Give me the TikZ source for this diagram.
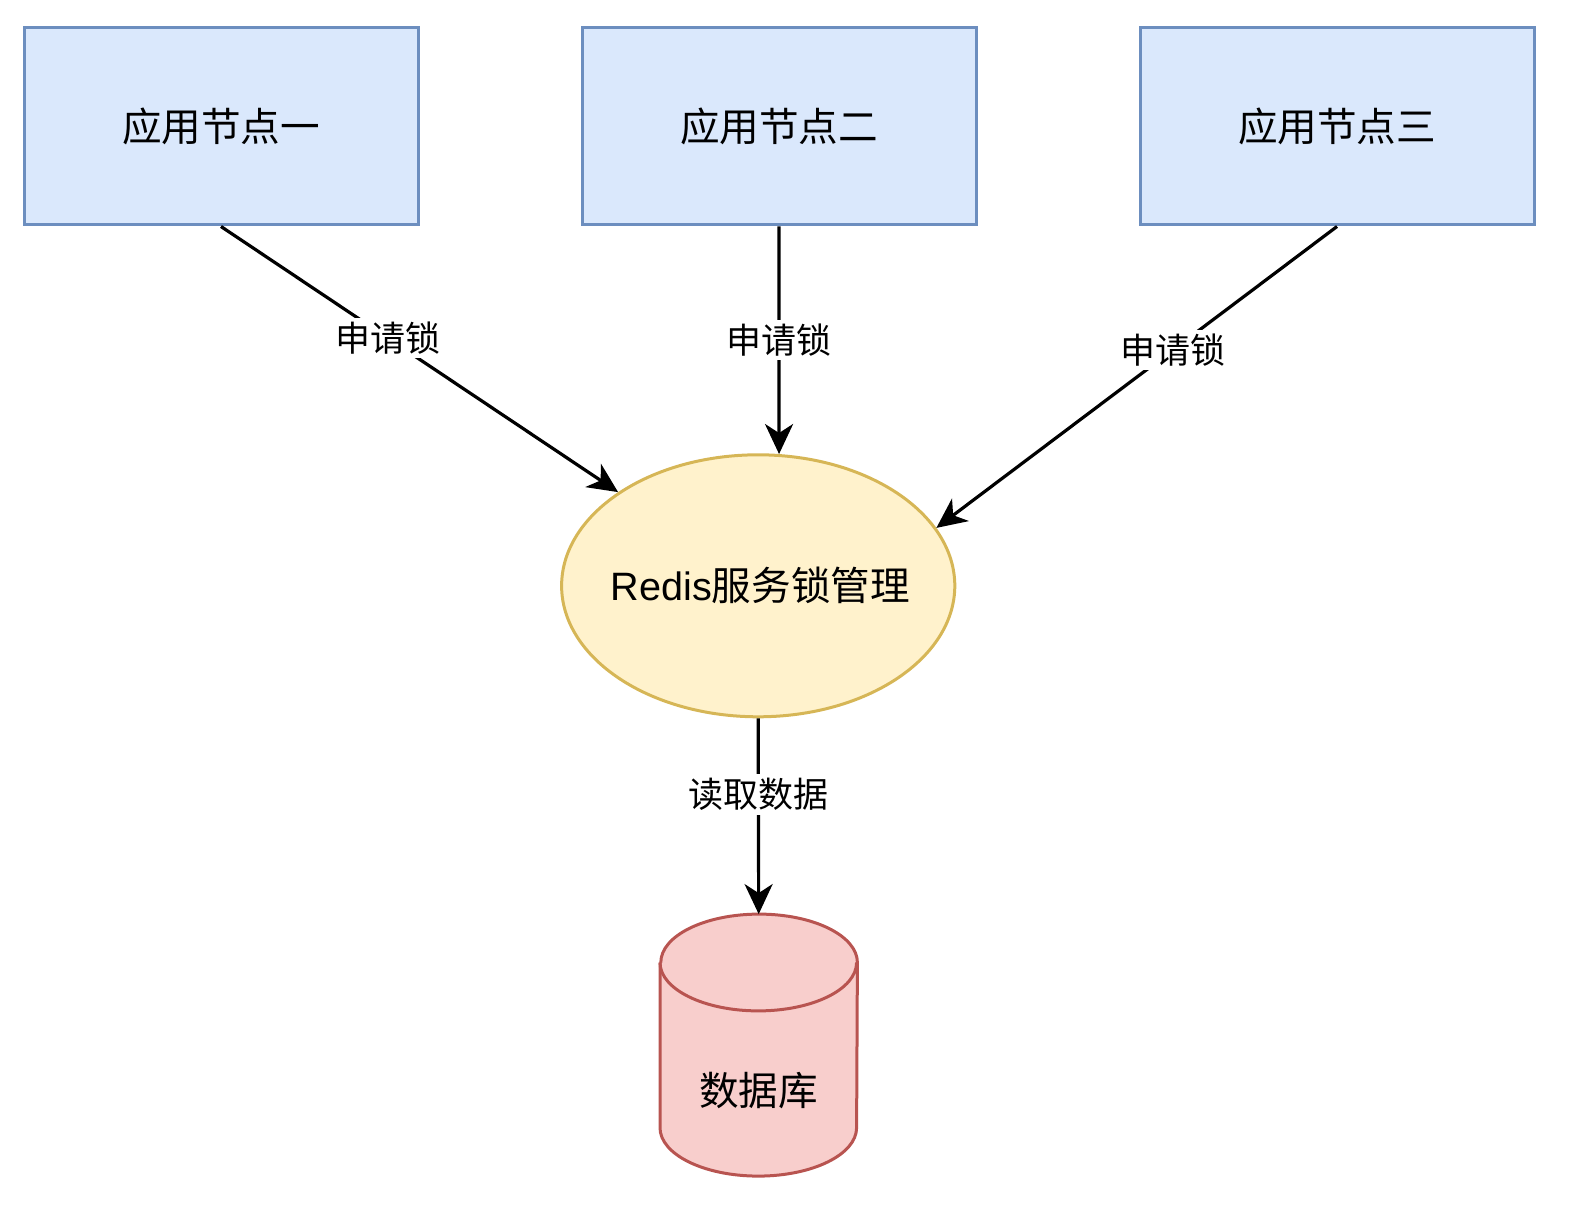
\documentclass[tikz,border=0pt]{standalone}
\usepackage{fontspec}
\setmainfont{Liberation Sans}
\newfontfamily\cjk{Noto Sans CJK SC}
\usetikzlibrary{arrows.meta,shapes.geometric,calc}
\definecolor{boxfill}{HTML}{DAE8FC}
\definecolor{boxline}{HTML}{6C8EBF}
\definecolor{ellfill}{HTML}{FFF2CC}
\definecolor{ellline}{HTML}{D6B656}
\definecolor{dbfill}{HTML}{F8CECC}
\definecolor{dbline}{HTML}{B85450}
\begin{document}
\begin{tikzpicture}[x=0.5pt,y=-0.5pt,
  appbox/.style={draw=boxline, fill=boxfill, line width=1.5pt, minimum width=197pt, minimum height=98.5pt, inner sep=0pt, font=\cjk\fontsize{19.8}{24}\selectfont},
  redisell/.style={ellipse, draw=ellline, fill=ellfill, line width=1.5pt, minimum width=196.6pt, minimum height=131pt, inner sep=0pt},
  dbbox/.style={minimum width=98.3pt, minimum height=130.6pt, inner sep=0pt},
  maintext/.style={font=\fontsize{19.8}{24}\selectfont, inner sep=0pt},
  arr/.style={line width=1.6pt, -{Stealth[length=15pt, width=14pt, inset=4.5pt]}},
  lbl/.style={fill=white, inner sep=2pt, font=\cjk\fontsize{17.5}{21}\selectfont}]
\useasboundingbox (0,0) rectangle (1581,1209);
\node[appbox] (b1) at (221,126.5) {应用节点一};
\node[appbox] (b2) at (779,126.5) {应用节点二};
\node[appbox] (b3) at (1337,126.5) {应用节点三};
\node[redisell] (redis) at (758.2,585.8) {};
\node[maintext] (redistext) at ([xshift=1pt]redis.center) {Redis{\cjk 服务锁管理}};
\node[dbbox] (db) at (758.7,1045.1) {};
\fill[dbfill] ([yshift=-24.2pt]db.north west) -- ([yshift=24.2pt]db.south west)
  arc[start angle=180, end angle=360, x radius=49.15pt, y radius=24.2pt]
  -- ([yshift=-24.2pt]db.north east)
  arc[start angle=0, end angle=180, x radius=49.15pt, y radius=24.2pt] -- cycle;
\draw[dbline, line width=1.5pt] ([yshift=-24.2pt]db.north west) -- ([yshift=24.2pt]db.south west)
  arc[start angle=180, end angle=360, x radius=49.15pt, y radius=24.2pt]
  -- ([yshift=-24.2pt]db.north east)
  arc[start angle=0, end angle=180, x radius=49.15pt, y radius=24.2pt];
\draw[dbline, line width=1.5pt] ([yshift=-24.2pt]db.north west)
  arc[start angle=180, end angle=360, x radius=49.15pt, y radius=24.2pt];
\node[maintext, font=\cjk\fontsize{19.8}{24}\selectfont] (dbtext) at ([yshift=-22.5pt]db.center) {数据库};
\draw[arr] (b1.south) -- node[lbl, pos=0.42] {申请锁} (redis);
\draw[arr] (b2.south) -- node[lbl, pos=0.5] {申请锁} (redis.81.6);
\draw[arr] (b3.south) -- node[lbl, pos=0.41] {申请锁} (redis.18.8);
\draw[arr] (redis.south) -- node[lbl, pos=0.39] {读取数据} (db.north);
\end{tikzpicture}
\end{document}
